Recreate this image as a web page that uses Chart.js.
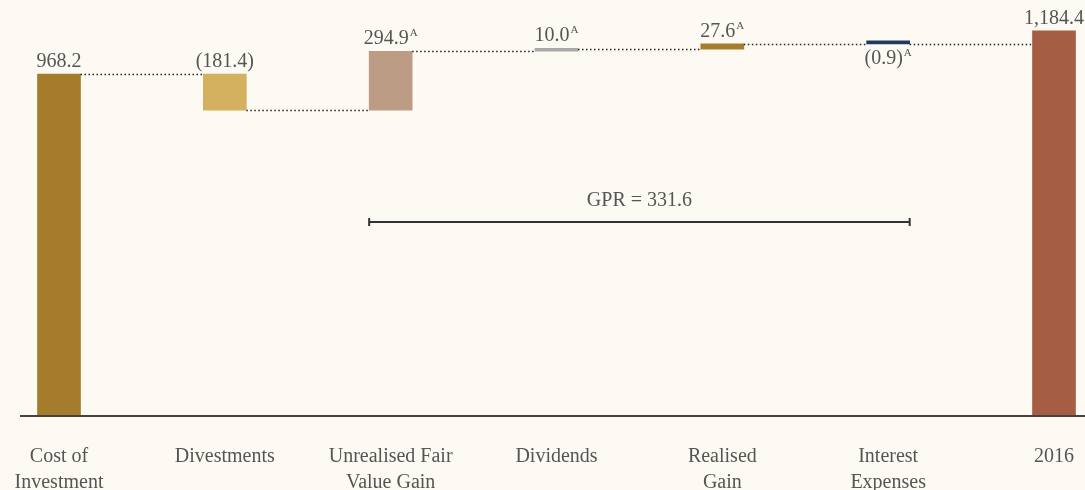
<!DOCTYPE html>
<html lang="en">
<head>
  <meta charset="UTF-8">
  <title>Cost of Investment to 2016</title>
  <script src="https://cdn.jsdelivr.net/npm/chart.js"></script>
  <style>
    html, body { margin: 0; padding: 0; background: #fcfaf3; }
    #wrap { width: 1085px; height: 490px; position: relative; }
  </style>
</head>
<body>
  <div id="wrap"><canvas id="gprChart"></canvas></div>

  <script>
    const categories = [['Cost of', 'Investment'], 'Divestments', ['Unrealised Fair', 'Value Gain'], 'Dividends', ['Realised', 'Gain'], ['Interest', 'Expenses'], '2016'];
    const changes = [968.2, -181.4, 294.9, 10.0, 27.6, -0.9, 1184.4];
    const isTotal = [true, false, false, false, false, false, true];
    const valueLabels = ['968.2', '(181.4)', '294.9', '10.0', '27.6', '(0.9)', '1,184.4'];
    const footnotes = ['', '', 'A', 'A', 'A', 'A', ''];
    const barColors = ['#a47c2c', '#d4b15e', '#bd9c85', '#a9a9a9', '#a67d2c', '#1f3a5c', '#a55e43'];
    const gprLabel = 'GPR = 331.6';
    const gprFrom = 2, gprTo = 5;   // bracket spans these bars
    const gprLevel = 228;           // y value of the bracket

    const axisMin = -742, axisMax = 1338;
    const serif = '"Liberation Serif", "DejaVu Serif", serif';

    // waterfall: totals stand on the axis, changes float from the running level
    let running = 0;
    const levels = [];
    const floating = changes.map((c, i) => {
      if (isTotal[i]) { running = c; levels.push(c); return [axisMin, c]; }
      const start = running;
      running += c;
      levels.push(running);
      return [start, running];
    });

    const waterfallDecor = {
      id: 'waterfallDecor',
      afterDatasetsDraw(chart) {
        const ctx = chart.ctx;
        const bars = chart.getDatasetMeta(0).data;
        const y = chart.scales.y;
        const area = chart.chartArea;

        // baseline
        ctx.save();
        ctx.strokeStyle = '#444';
        ctx.lineWidth = 2;
        ctx.beginPath();
        ctx.moveTo(20, area.bottom);
        ctx.lineTo(chart.width, area.bottom);
        ctx.stroke();

        // dotted connectors
        ctx.strokeStyle = '#222';
        ctx.lineWidth = 1.5;
        ctx.setLineDash([1.5, 2.5]);
        for (let i = 0; i < bars.length - 1; i++) {
          const py = Math.round(y.getPixelForValue(levels[i])) + 0.5;
          ctx.beginPath();
          ctx.moveTo(bars[i].x + bars[i].width / 2, py);
          ctx.lineTo(bars[i + 1].x - bars[i + 1].width / 2, py);
          ctx.stroke();
        }
        ctx.setLineDash([]);

        // value labels
        ctx.fillStyle = '#555';
        ctx.textBaseline = 'alphabetic';
        bars.forEach((bar, i) => {
          const top = Math.min(bar.y, bar.base);
          const bottom = Math.max(bar.y, bar.base);
          const below = i === 5;
          ctx.font = '20px ' + serif;
          const w1 = ctx.measureText(valueLabels[i]).width;
          ctx.font = '11px ' + serif;
          const w2 = footnotes[i] ? ctx.measureText(footnotes[i]).width + 1 : 0;
          let x0 = bar.x - (w1 + w2) / 2;
          if (x0 + w1 + w2 > chart.width - 1) x0 = chart.width - 1 - w1 - w2;
          const by = below ? bottom + 20 : top - 7;
          ctx.font = '20px ' + serif;
          ctx.textAlign = 'left';
          ctx.fillText(valueLabels[i], x0, by);
          if (footnotes[i]) {
            ctx.font = '11px ' + serif;
            ctx.fillText(footnotes[i], x0 + w1 + 1, by - 8);
          }
        });

        // GPR bracket
        const x1 = bars[gprFrom].x - bars[gprFrom].width / 2;
        const x2 = bars[gprTo].x + bars[gprTo].width / 2;
        const gy = Math.round(y.getPixelForValue(gprLevel));
        ctx.strokeStyle = '#333';
        ctx.lineWidth = 2;
        ctx.beginPath();
        ctx.moveTo(x1, gy); ctx.lineTo(x2, gy);
        ctx.moveTo(x1, gy - 4); ctx.lineTo(x1, gy + 4);
        ctx.moveTo(x2, gy - 4); ctx.lineTo(x2, gy + 4);
        ctx.stroke();
        ctx.font = '20px ' + serif;
        ctx.textAlign = 'center';
        ctx.textBaseline = 'middle';
        ctx.fillText(gprLabel, (x1 + x2) / 2, gy - 21);
        ctx.restore();
      }
    };

    const ctx = document.getElementById('gprChart').getContext('2d');
    new Chart(ctx, {
      type: 'bar',
      data: {
        labels: categories,
        datasets: [{
          data: floating,
          backgroundColor: barColors,
          barThickness: 43,
          minBarLength: 3,
          clip: false
        }]
      },
      options: {
        responsive: true,
        maintainAspectRatio: false,
        animation: false,
        layout: { padding: { left: 59, right: 31, top: 0, bottom: 0 } },
        scales: {
          x: {
            offset: false,
            grid: { display: false },
            border: { display: false },
            ticks: {
              color: '#555',
              font: { family: serif, size: 20, lineHeight: 1.3 },
              maxRotation: 0,
              autoSkip: false,
              padding: 20
            },
            afterFit(scale) {
              scale.height = 74;
              scale.paddingLeft = 0;
              scale.paddingRight = 0;
            }
          },
          y: { display: false, min: axisMin, max: axisMax }
        },
        plugins: {
          legend: { display: false },
          tooltip: { enabled: false }
        }
      },
      plugins: [waterfallDecor]
    });
  </script>
</body>
</html>
